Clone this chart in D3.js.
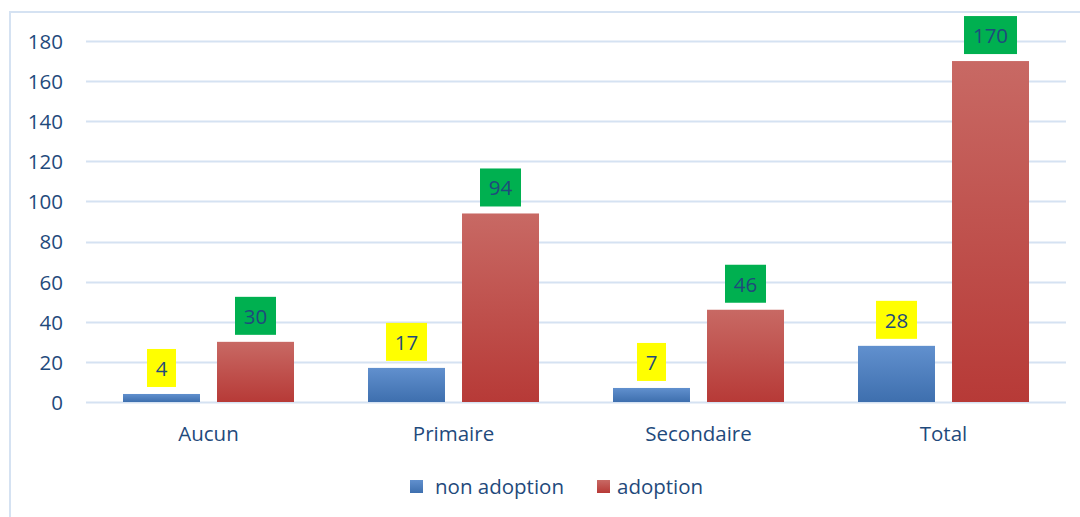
<!DOCTYPE html>
<html><head><meta charset="utf-8">
<script src="https://cdnjs.cloudflare.com/ajax/libs/d3/7.8.5/d3.min.js"></script>
<style>body{margin:0;background:#fff}svg{display:block}text{font-family:"Open Sans","Noto Sans",sans-serif}</style>
</head><body><svg id="c" width="1080" height="517"></svg>
<script>
const categories = ["Aucun", "Primaire", "Secondaire", "Total"];
const nonAdoption = [4, 17, 7, 28];
const adoption = [30, 94, 46, 170];
const yTicks = [0, 20, 40, 60, 80, 100, 120, 140, 160, 180];
const seriesNames = ["non adoption", "adoption"];

const svg = d3.select("#c");
const m = {left: 86, right: 1066, top: 41, bottom: 402};
const txt = "#1F4A7C";
const FS = 20.5;

svg.append("rect").attr("x", 10).attr("y", 12).attr("width", 1080).attr("height", 520)
  .attr("fill", "#fff").attr("stroke", "#D5E2F2").attr("stroke-width", 2);

const defs = svg.append("defs");
const gb = defs.append("linearGradient").attr("id", "gb").attr("x1", 0).attr("y1", 0).attr("x2", 0).attr("y2", 1);
gb.append("stop").attr("offset", "0%").attr("stop-color", "#6190CE");
gb.append("stop").attr("offset", "100%").attr("stop-color", "#3E6FAE");
const gr = defs.append("linearGradient").attr("id", "gr").attr("x1", 0).attr("y1", 0).attr("x2", 0).attr("y2", 1);
gr.append("stop").attr("offset", "0%").attr("stop-color", "#C86964");
gr.append("stop").attr("offset", "100%").attr("stop-color", "#B73A37");

const y = d3.scaleLinear().domain([0, 180]).range([m.bottom, m.top]);
const x0 = d3.scaleBand().domain(categories).range([m.left, m.right]);
const x1 = d3.scaleBand().domain(seriesNames).range([37, x0.bandwidth() - 37]).paddingInner(0.181);

// gridlines
svg.append("g").selectAll("line").data(yTicks).join("line")
  .attr("x1", m.left).attr("x2", m.right)
  .attr("y1", d => Math.round(y(d)) + 0.5).attr("y2", d => Math.round(y(d)) + 0.5)
  .attr("stroke", "#D5E2F2").attr("stroke-width", 2);

// y tick labels
const yAxis = d3.axisLeft(y).tickValues(yTicks).tickSize(0).tickPadding(0);
const ya = svg.append("g").attr("transform", `translate(${m.left - 23},0)`).call(yAxis);
ya.select(".domain").remove();
ya.selectAll("text").attr("fill", txt).attr("font-size", FS).attr("dy", "0.36em");

const series = [
  {name: seriesNames[0], values: nonAdoption, fill: "url(#gb)", box: "#FFFF00"},
  {name: seriesNames[1], values: adoption, fill: "url(#gr)", box: "#00B050"}
];

series.forEach(s => {
  const g = svg.append("g");
  const data = categories.map((c, i) => ({c, v: s.values[i]}));
  g.selectAll("rect.bar").data(data).join("rect").attr("class", "bar")
    .attr("x", d => x0(d.c) + x1(s.name)).attr("width", x1.bandwidth())
    .attr("y", d => y(d.v)).attr("height", d => y(0) - y(d.v))
    .attr("fill", s.fill);
  const lg = g.selectAll("g.lab").data(data).join("g").attr("class", "lab")
    .attr("transform", d => `translate(${x0(d.c) + x1(s.name) + x1.bandwidth() / 2},${y(d.v) - 7})`);
  lg.each(function(d) {
    const gg = d3.select(this);
    const bw = String(d.v).length * 12 + 17;
    gg.append("rect").attr("x", -bw / 2).attr("y", -38).attr("width", bw).attr("height", 38).attr("fill", s.box);
    gg.append("text").text(d.v).attr("text-anchor", "middle").attr("font-size", FS)
      .attr("fill", txt).attr("y", -11);
  });
});

// x labels
svg.append("g").selectAll("text").data(categories).join("text")
  .attr("x", d => x0(d) + x0.bandwidth() / 2).attr("y", 441)
  .attr("text-anchor", "middle").attr("font-size", FS).attr("fill", txt).text(d => d);

// legend
const leg = svg.append("g");
const legX = [410, 597];
series.forEach((s, i) => {
  leg.append("rect").attr("x", legX[i]).attr("y", 480).attr("width", 13).attr("height", 13).attr("fill", s.fill);
  leg.append("text").attr("x", legX[i] + (i === 0 ? 25 : 20)).attr("y", 494).attr("font-size", FS).attr("fill", txt).text(s.name);
});
</script></body></html>
